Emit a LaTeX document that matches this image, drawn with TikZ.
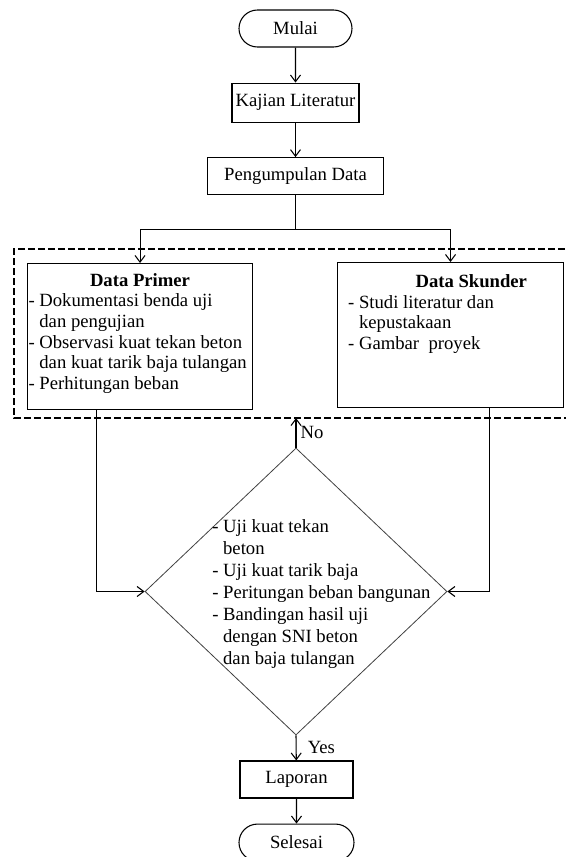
\documentclass[tikz,border=0pt]{standalone}
\usepackage{fontspec}
\setmainfont{Liberation Serif}
\usepackage{tikz}
\usetikzlibrary{shapes.geometric,shapes.misc,arrows.meta,positioning}

\begin{document}
\begin{tikzpicture}[
  x=0.75pt, y=-0.75pt,
  node distance=26pt,
  every node/.style={font=\fontsize{14}{15.5}\selectfont},
  terminal/.style={rounded rectangle, draw, line width=0.8pt, minimum width=84.75pt,
                   minimum height=27.75pt, inner sep=0pt},
  proses/.style={rectangle, draw, line width=0.8pt, minimum height=27.75pt, inner sep=0pt},
  databox/.style={rectangle, draw, line width=0.8pt, inner ysep=0pt, anchor=north west},
  keputusan/.style={diamond, draw=black!75, line width=0.6pt, inner sep=0pt,
                    minimum width=226.5pt, minimum height=215.25pt},
  arr/.style={-{Straight Barb[length=5pt,width=7.5pt]}, line width=0.8pt},
  garis/.style={line width=0.8pt},
  bingkai/.style={dashed, dash pattern=on 5pt off 2.5pt, line width=0.8pt}
]
\useasboundingbox (0,0) rectangle (566,857);
\clip (0,0) rectangle (566,857);

%% ---- Alur atas ----
\node[terminal] (mulai) at (295.5,28.5) {Mulai};
\node[proses, below=26.25pt of mulai, minimum width=95.25pt, minimum height=29.25pt] (kajian)
  {Kajian Literatur};
\node[proses, below=25.9pt of kajian, minimum width=132pt] (kumpul) {Pengumpulan Data};
\coordinate[below=25.5pt of kumpul] (cabang);

%% ---- Data (dalam bingkai putus-putus) ----
\coordinate (bingkaiA) at (575,249);
\coordinate (bingkaiB) at (14,249);
\coordinate (bingkaiC) at (14,418);
\coordinate (bingkaiD) at (575,418);

\node[databox, inner xsep=0.75pt] (primer) at (27,263) {%
  \begin{minipage}[c][109.5pt][t]{167.25pt}
  \centering\rule{0pt}{17pt}\textbf{Data Primer}\par
  \raggedright
  - Dokumentasi benda uji\\
  \phantom{- }dan pengujian\\
  - Observasi kuat tekan beton\\
  \phantom{- }dan kuat tarik baja tulangan\\
  - Perhitungan beban
  \end{minipage}};
\node[databox, inner xsep=8pt] (skunder) at (337,262) {%
  \begin{minipage}[c][108.75pt][t]{153.5pt}
  \raggedright\rule{0pt}{18.75pt}\hspace*{50.5pt}\textbf{Data Skunder}\\
  - Studi literatur dan\\
  \phantom{- }kepustakaan\\
  - Gambar\ \ proyek
  \end{minipage}};

%% ---- Keputusan ----
\node[keputusan] (cek) at (296,591.5) {};
\node[align=left, anchor=north west, inner sep=0pt, font=\fontsize{14}{16.5}\selectfont]
  (cekisi) at (212,519)
  {- Uji kuat tekan\\
   \phantom{- }beton\\
   - Uji kuat tarik baja\\
   - Peritungan beban bangunan\\
   - Bandingan hasil uji\\
   \phantom{- }dengan SNI beton\\
   \phantom{- }dan baja tulangan};

%% ---- Alur bawah ----
\node[proses, minimum width=84.75pt] (laporan) at (296.5,779.5) {Laporan};
\node[terminal, below=18.75pt of laporan, minimum width=86.25pt] (selesai) {Selesai};

%% ---- Garis ----
\draw[bingkai] (bingkaiA) -- (bingkaiB) -- (bingkaiC) -- (bingkaiD);
\draw[arr] (mulai) -- (kajian);
\draw[arr] (kajian) -- (kumpul);
\draw[garis] (kumpul) -- (cabang);
\draw[arr] (cabang) -| (primer);
\draw[arr] (cabang) -| (skunder);
\draw[arr] ([xshift=-32.6pt]primer.south) |- (cek.west);
\draw[arr] ([xshift=29.25pt]skunder.south) |- (cek.east);
\draw[arr] (cek) -- (cek |- bingkaiC) node[midway, right, inner sep=3pt] {No};
\draw[arr] (cek.south) -- (laporan) node[midway, right, xshift=5pt] {Yes};
\draw[arr] (laporan) -- (selesai);
\end{tikzpicture}
\end{document}
